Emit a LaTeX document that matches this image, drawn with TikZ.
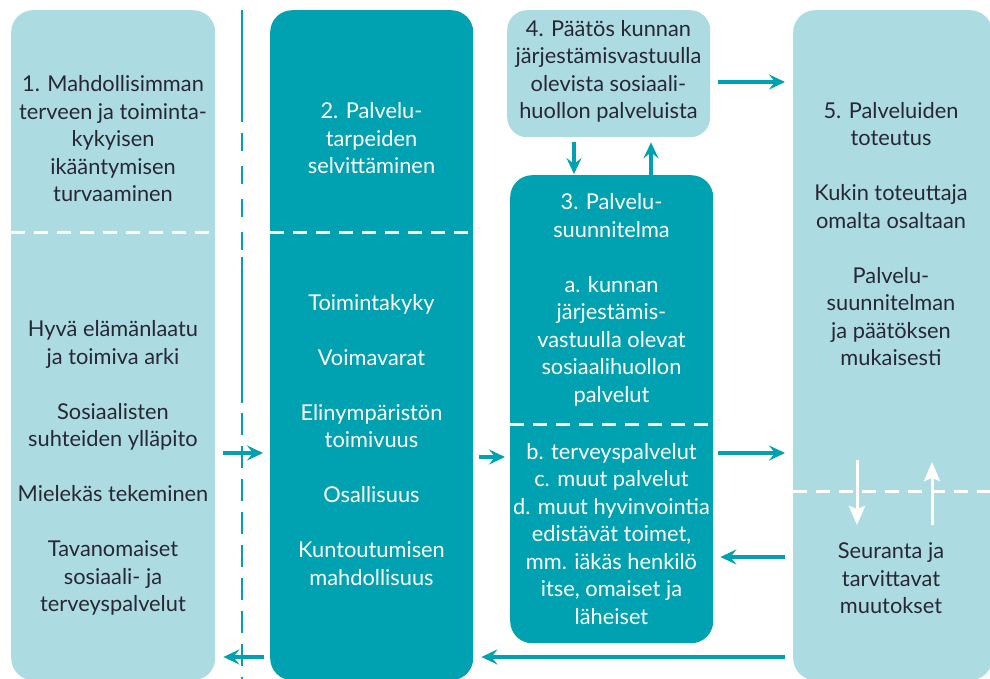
\documentclass[tikz,border=0pt]{standalone}
\usepackage{fontspec}
\setmainfont{Lato}
\usetikzlibrary{arrows.meta,calc}
\definecolor{teal1}{RGB}{0,161,176}
\definecolor{light1}{RGB}{172,219,226}
\definecolor{ink}{RGB}{40,40,52}
\begin{document}
\begin{tikzpicture}[x=1pt,y=-1pt,
  box/.style={rounded corners=22pt, inner sep=0pt, anchor=north west, draw=none},
  lbox/.style={box, fill=light1},
  dbox/.style={box, fill=teal1},
  txt/.style={align=center, font=\fontsize{21.8}{27.5}\selectfont, inner sep=0pt},
  ltxt/.style={txt, text=ink},
  dtxt/.style={txt, text=white},
  arr/.style={draw=teal1, line width=3.2pt, -{Stealth[length=16pt,width=15pt,inset=6pt]}},
  warr/.style={draw=white, line width=3pt, -{Stealth[length=19pt,width=16pt,inset=3pt]}},
  sep/.style={draw=white, line width=3pt, dash pattern=on 14pt off 9pt},
  vline/.style={draw=teal1, line width=2pt},
]
\useasboundingbox (0,0) rectangle (990,679);
\fill[white] (0,0) rectangle (990,679);

% boxes
\node[lbox, minimum width=204pt, minimum height=670pt] (b1) at (11,10) {};
\node[dbox, minimum width=203pt, minimum height=670pt] (b2) at (270,10) {};
\node[lbox, minimum width=203pt, minimum height=127pt, rounded corners=20pt] (b4) at (507,10) {};
\node[dbox, minimum width=203pt, minimum height=468pt] (b3) at (510,175) {};
\node[lbox, minimum width=199pt, minimum height=670pt] (b5) at (793,10) {};

% level coordinates
\coordinate (y232) at (0,232);
\coordinate (y424) at (0,424);
\coordinate (y491) at (0,491);
\coordinate (ya) at (0,453);
\coordinate (yb) at (0,457);
\coordinate (yc) at (0,82);
\coordinate (yd) at (0,557);
\coordinate (ye) at (0,657);
\coordinate (xd) at (574,0);
\coordinate (xu) at (651,0);

% dashed separators
\draw[sep] (b1.west |- y232) -- (b1.east |- y232);
\draw[sep] (b2.west |- y232) -- (b2.east |- y232);
\draw[sep] (b3.west |- y424) -- (b3.east |- y424);
\draw[sep] (b5.west |- y491) -- (b5.east |- y491);

% vertical line
\draw[vline] (242,10) -- (242,122);
\draw[vline, dash pattern=on 18pt off 15pt] (242,133) -- (242,250);
\draw[vline] (242,257) -- (242,403);
\draw[vline, dash pattern=on 22pt off 11pt] (242,413) -- (242,679);

% texts
\node[ltxt] (t1a) at (113,139) {1. Mahdollisimman\\terveen ja toiminta-\\kykyisen\\ikääntymisen\\turvaaminen};
\node[ltxt] (t1b) at (113,468) {Hyvä elämänlaatu\\ja toimiva arki\\[27.5pt]Sosiaalisten\\suhteiden ylläpito\\[27.5pt]Mielekäs tekeminen\\[27.5pt]Tavanomaiset\\sosiaali- ja\\terveyspalvelut};
\node[dtxt] (t2a) at (371.5,138.5) {2. Palvelu-\\tarpeiden\\selvittäminen};
\node[dtxt] (t2b) at (371.5,440) {Toimintakyky\\[27.5pt]Voimavarat\\[27.5pt]Elinympäristön\\toimivuus\\[27.5pt]Osallisuus\\[27.5pt]Kuntoutumisen\\mahdollisuus};
\node[ltxt] (t4) at (608.5,71.5) {4. Päätös kunnan\\järjestämisvastuulla\\olevista sosiaali-\\huollon palveluista};
\node[dtxt] (t3a) at (611.5,300) {3. Palvelu-\\suunnitelma\\[27.5pt]a. kunnan\\järjestämis-\\vastuulla olevat\\sosiaalihuollon\\palvelut};
\node[dtxt] (t3b) at (611.5,534) {b. terveyspalvelut\\c. muut palvelut\\d. muut hyvinvointia\\edistävät toimet,\\mm. iäkäs henkilö\\itse, omaiset ja\\läheiset};
\node[ltxt] (t5a) at (891,234) {5. Palveluiden\\toteutus\\[27.5pt]Kukin toteuttaja\\omalta osaltaan\\[27.5pt]Palvelu-\\suunnitelman\\ja päätöksen\\mukaisesti};
\node[ltxt] (t5b) at (891,578.5) {Seuranta ja\\tarvittavat\\muutokset};

% connectors
\draw[arr] ([xshift=8pt]b1.east |- ya) -- ([xshift=-7pt]b2.west |- ya);
\draw[arr] ([xshift=6pt]b2.east |- yb) -- ([xshift=-5pt]b3.west |- yb);
\draw[arr] ([xshift=5pt]b3.east |- ya) -- ([xshift=-8pt]b5.west |- ya);
\draw[arr] ([xshift=8pt]b4.east |- yc) -- ([xshift=-8pt]b5.west |- yc);
\draw[arr] ([xshift=-8pt]b5.west |- yd) -- ([xshift=7pt]b3.east |- yd);
\draw[arr] ([xshift=-8pt]b5.west |- ye) -- ([xshift=8pt]b2.east |- ye);
\draw[arr] ([xshift=-6pt]b2.west |- ye) -- ([xshift=8pt]b1.east |- ye);
\draw[arr] ([yshift=-5pt]b4.south -| xd) -- ([yshift=1pt]b3.north -| xd);
\draw[arr] (b3.north -| xu) -- ([yshift=-5pt]b4.south -| xu);

% white arrows in box 5
\coordinate (wd1) at (857,460);
\coordinate (wd2) at (857,525);
\coordinate (wu1) at (932,525);
\coordinate (wu2) at (932,462);
\draw[warr] (wd1) -- (wd2);
\draw[warr] (wu1) -- (wu2);
\end{tikzpicture}
\end{document}
